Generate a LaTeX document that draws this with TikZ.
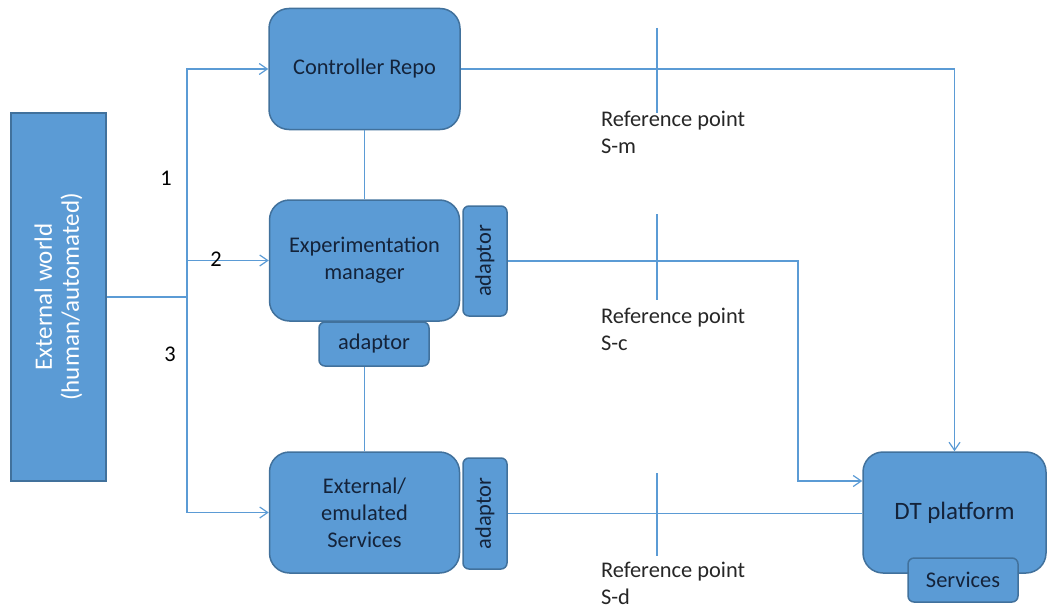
\documentclass[tikz,border=0pt]{standalone}
\usepackage{fontspec}
\setmainfont{Carlito}
\usetikzlibrary{arrows.meta}
\definecolor{boxblue}{HTML}{5B9BD5}
\definecolor{boxedge}{HTML}{41719C}
\definecolor{textnavy}{HTML}{14233A}
\definecolor{labelgray}{HTML}{262626}

\begin{document}
\begin{tikzpicture}[x=0.5pt,y=-0.5pt,
  box/.style={draw=boxedge,fill=boxblue,line width=0.75pt,rounded corners=10pt,inner sep=0pt,
    text=textnavy,align=center,font=\fontsize{11.2}{13.6}\selectfont},
  adaptorbox/.style={box,rounded corners=3pt},
  link/.style={draw=boxblue,line width=0.6pt},
  arr/.style={link,-{Straight Barb[length=4pt,width=5.5pt]}},
  reflabel/.style={anchor=west,align=left,text=labelgray,font=\fontsize{11.2}{13.6}\selectfont},
  numlabel/.style={text=black,font=\fontsize{11.2}{13.6}\selectfont}]
\useasboundingbox (0,0) rectangle (1047,610);

\node[box,rounded corners=0pt,minimum width=184pt,minimum height=47.5pt,text=white,rotate=90,
  font=\fontsize{12.5}{13.5}\selectfont] (world) at (58.5,297) {External world\\(human/automated)};

\node[box,minimum width=95.5pt,minimum height=60.5pt] (repo) at (364.5,69) {Controller Repo};
\node[box,minimum width=95pt,minimum height=60.5pt] (exp) at (364.5,260.5) {Experimentation\\manager};
\node[adaptorbox,minimum width=55pt,minimum height=22pt,rotate=90] (adr) at (485,261) {adaptor};
\node[adaptorbox,minimum width=55pt,minimum height=22pt] (adb) at (374,344) {adaptor};
\node[box,minimum width=95pt,minimum height=60.5pt] (ext) at (364.5,512.5) {External/\\emulated\\Services};
\node[adaptorbox,minimum width=55.5pt,minimum height=22pt,rotate=90] (ads) at (485,513.5) {adaptor};

\node[box,minimum width=91.5pt,minimum height=60.5pt,font=\fontsize{12.5}{14}\selectfont] (dt) at (954.5,512.5) {DT platform};
\node[adaptorbox,minimum width=55pt,minimum height=22pt] (srv) at (963,580) {Services};

\coordinate (bus) at (187,297);
\coordinate (cturn) at (798,481);

\draw[link] (world.south) -- (bus);
\draw[arr] (bus) |- (repo.west);
\draw[arr] (bus) |- (exp.west);
\draw[arr] (bus) |- (ext.west);
\draw[link] (repo.south) -- (exp.north);
\draw[link] (adb.south -| ext.north) -- (ext.north);

\draw[arr] (repo.east) -| (dt.north);
\draw[arr] (adr.south) -| (cturn) -- (cturn -| dt.west);
\draw[link] (ads.south) -- (ads.south -| dt.west);

\foreach \ya/\yb in {28/113, 214/300, 473/556}
  \draw[link] (657,\ya) -- (657,\yb);

\node[reflabel] (refm) at (594,132) {Reference point\\S-m};
\node[reflabel] (refc) at (594,329) {Reference point\\S-c};
\node[reflabel] (refd) at (594,583) {Reference point\\S-d};

\node[numlabel] (n1) at (166,178) {1};
\node[numlabel] (n2) at (216,259) {2};
\node[numlabel] (n3) at (170,354) {3};
\end{tikzpicture}
\end{document}
